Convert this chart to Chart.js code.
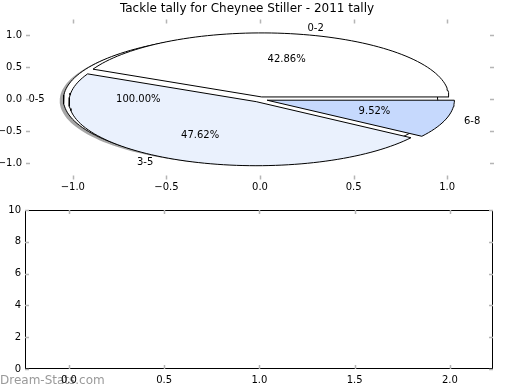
<!DOCTYPE html>
<html>
<head>
<meta charset="utf-8">
<script src="https://cdn.jsdelivr.net/npm/chart.js@4/dist/chart.umd.min.js"></script>
<style>
  html, body { margin: 0; padding: 0; background: #fff; }
  #wrap { position: relative; width: 520px; height: 390px; }
  #pie { position: absolute; left: 0; top: 0; }
  #bars { position: absolute; left: 0; top: 200px; }
</style>
</head>
<body>
<div id="wrap">
  <canvas id="pie" width="520" height="200"></canvas>
  <canvas id="bars" width="520" height="190"></canvas>
</div>
<script>
// tally data (pie on top)
const sliceLabels = ["0-2", "3-5", "6-8"];
const sliceCounts = [9, 10, 2];
const totalLabels = ["0-5"];
const totalCounts = [21];

// tick values
const pieXTicks = [-1.0, -0.5, 0.0, 0.5, 1.0];
const pieYTicks = [-1.0, -0.5, 0.0, 0.5, 1.0];
const barXTicks = [0.0, 0.5, 1.0, 1.5, 2.0];
const barYTicks = [0, 2, 4, 6, 8, 10];

const FONT = "'DejaVu Sans', sans-serif";
const sliceColors = ["#ffffff", "#eaf1fd", "#c6d9fd"];
const sliceExplode = [0.04, 0.04, 0.04];
const totalExplode = [0.05];

Chart.defaults.font.family = FONT;
Chart.defaults.color = "#000";

const fmt1 = (v) => (v < 0 ? "\u2212" : "") + Math.abs(v).toFixed(1);
const fmt0 = (v) => (v < 0 ? "\u2212" : "") + Math.abs(v).toFixed(0);

// work out wedge geometry like matplotlib pie (startangle 0, ccw)
function makeWedges(labels, counts, explode) {
  const total = counts.reduce((a, b) => a + b, 0);
  let a = 0;
  return counts.map((c, i) => {
    const frac = c / total;
    const a1 = a;
    const a2 = a + frac * 360;
    a = a2;
    const mid = ((a1 + a2) / 2) * Math.PI / 180;
    const cx = explode[i] * Math.cos(mid);
    const cy = explode[i] * Math.sin(mid);
    const n = Math.max(8, Math.ceil((a2 - a1) / 2));
    const pts = [];
    const full = frac >= 0.9999;
    if (!full) pts.push({ x: cx, y: cy });
    for (let k = 0; k <= n; k++) {
      const t = (a1 + (a2 - a1) * k / n) * Math.PI / 180;
      pts.push({ x: cx + Math.cos(t), y: cy + Math.sin(t) });
    }
    if (!full) pts.push({ x: cx, y: cy });
    return { label: labels[i], pct: frac * 100, mid, cx, cy, pts };
  });
}

const slices = makeWedges(sliceLabels, sliceCounts, sliceExplode);
const totals = makeWedges(totalLabels, totalCounts, totalExplode);

const shape = (w, color, order, border) => ({
  data: w.pts,
  showLine: true,
  fill: "shape",
  backgroundColor: color,
  borderColor: border ? "#000" : "rgba(0,0,0,0)",
  borderWidth: border ? 1 : 0,
  pointRadius: 0,
  tension: 0,
  order: order,
});

const pieDatasets = [];
slices.forEach((w, i) => pieDatasets.push(shape(w, sliceColors[i], i, true)));
totals.forEach((w) => {
  pieDatasets.push(shape(w, "#ffffff", 5, true));
  // shadow under the whole pie
  pieDatasets.push({
    ...shape(w, "rgba(77,77,77,0.5)", 6, false),
    data: w.pts.map((p) => ({ x: p.x - 0.02, y: p.y - 0.02 })),
  });
});

// inward tick marks on all four sides, matplotlib style
const mplTicks = {
  id: "mplTicks",
  afterDraw(chart, args, opts) {
    const { ctx, chartArea: ca, scales } = chart;
    ctx.save();
    if (opts.frame) {
      ctx.strokeStyle = "#000";
      ctx.lineWidth = 1;
      ctx.strokeRect(ca.left + 0.5, ca.top + 0.5, ca.right - ca.left - 1, ca.bottom - ca.top - 1);
    }
    ctx.strokeStyle = "#b5b5b5";
    ctx.lineWidth = 1.5;
    const L = 4;
    ctx.beginPath();
    scales.x.ticks.forEach((t) => {
      const px = Math.round(scales.x.getPixelForValue(t.value)) + 0.5;
      ctx.moveTo(px, ca.top); ctx.lineTo(px, ca.top + L);
      ctx.moveTo(px, ca.bottom); ctx.lineTo(px, ca.bottom - L);
    });
    scales.y.ticks.forEach((t) => {
      const py = Math.round(scales.y.getPixelForValue(t.value)) + 0.5;
      ctx.moveTo(ca.left, py); ctx.lineTo(ca.left + L, py);
      ctx.moveTo(ca.right, py); ctx.lineTo(ca.right - L, py);
    });
    ctx.stroke();
    ctx.restore();
  },
};

// pie labels and percentages
const pieText = {
  id: "pieText",
  afterDatasetsDraw(chart) {
    const { ctx, scales } = chart;
    const X = (v) => scales.x.getPixelForValue(v);
    const Y = (v) => scales.y.getPixelForValue(v);
    ctx.save();
    ctx.font = "10px " + FONT;
    ctx.fillStyle = "#000";
    ctx.textBaseline = "middle";
    totals.concat(slices).forEach((w) => {
      const c = Math.cos(w.mid), s = Math.sin(w.mid);
      const lx = w.cx + 1.1 * c, ly = w.cy + 1.1 * s;
      ctx.textAlign = lx > 0 ? "left" : "right";
      ctx.fillText(w.label, X(lx), Y(ly));
      ctx.textAlign = "center";
      ctx.fillText(w.pct.toFixed(2) + "%", X(w.cx + 0.6 * c), Y(w.cy + 0.6 * s));
    });
    ctx.restore();
  },
};

const watermark = {
  id: "watermark",
  beforeDraw(chart) {
    const ctx = chart.ctx;
    ctx.save();
    ctx.font = "12px " + FONT;
    ctx.fillStyle = "#9a9a9a";
    ctx.textBaseline = "middle";
    ctx.textAlign = "left";
    ctx.fillText("Dream-Stats.com", 0, 181);
    ctx.restore();
  },
};

function axis(min, max, ticks, fmt, size, isX, pad) {
  return {
    type: "linear",
    min: min,
    max: max,
    afterBuildTicks: (s) => { s.ticks = ticks.map((v) => ({ value: v })); },
    afterFit: (s) => { if (isX) s.height = size; else s.width = size; },
    grid: { display: false, drawTicks: false },
    border: { display: false },
    ticks: { font: { size: 10 }, color: "#000", padding: pad, callback: (v) => fmt(v), maxRotation: 0, autoSkip: false },
  };
}

new Chart(document.getElementById("pie"), {
  type: "scatter",
  data: { datasets: pieDatasets },
  options: {
    responsive: false,
    animation: false,
    events: [],
    layout: { padding: { left: 0, right: 26, top: 0, bottom: 0 } },
    plugins: {
      legend: { display: false },
      tooltip: { enabled: false },
      title: {
        display: true,
        text: "Tackle tally for Cheynee Stiller - 2011 tally",
        font: { size: 12, weight: "normal" },
        color: "#000",
        padding: { top: 2, bottom: 3 },
      },
      mplTicks: { frame: false },
    },
    scales: {
      x: axis(-1.25, 1.25, pieXTicks, fmt1, 20.5, true, 2),
      y: axis(-1.25, 1.25, pieYTicks, fmt1, 26, false, 4),
    },
  },
  plugins: [mplTicks, pieText],
});

new Chart(document.getElementById("bars"), {
  type: "scatter",
  data: { datasets: [{ data: [] }] },
  options: {
    responsive: false,
    animation: false,
    events: [],
    layout: { padding: { left: 0, right: 27, top: 10, bottom: 0 } },
    plugins: {
      legend: { display: false },
      tooltip: { enabled: false },
      mplTicks: { frame: true },
    },
    scales: {
      x: axis(-0.23, 2.226, barXTicks, fmt1, 21, true, 5),
      y: axis(0, 10, barYTicks, fmt0, 25, false, 4),
    },
  },
  plugins: [watermark, mplTicks],
});
</script>
</body>
</html>
